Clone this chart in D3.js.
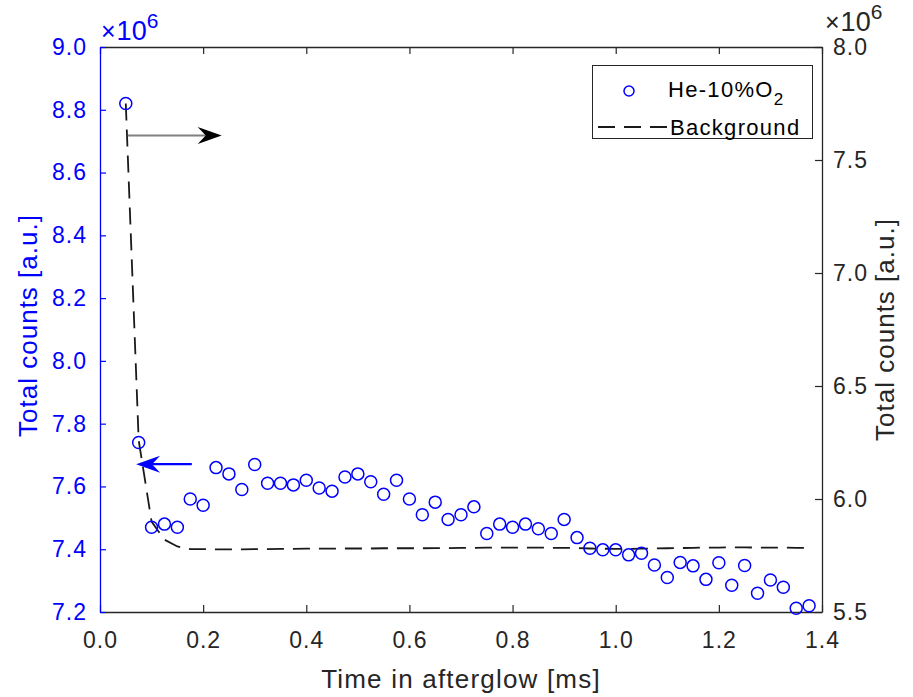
<!DOCTYPE html>
<html>
<head>
<meta charset="utf-8">
<script src="https://cdn.jsdelivr.net/npm/d3@7"></script>
<style>
  body { margin: 0; background: #fff; }
  svg text { font-family: "Liberation Sans", Arial, sans-serif; }
</style>
</head>
<body>
<div id="chart-area"></div>
<script>
// time in afterglow [ms]
const times = [0.05, 0.075, 0.1, 0.125, 0.15, 0.175, 0.2, 0.225, 0.25, 0.275,
  0.3, 0.325, 0.35, 0.375, 0.4, 0.425, 0.45, 0.475, 0.5, 0.525,
  0.55, 0.575, 0.6, 0.625, 0.65, 0.675, 0.7, 0.725, 0.75, 0.775,
  0.8, 0.825, 0.85, 0.875, 0.9, 0.925, 0.95, 0.975, 1.0, 1.025,
  1.05, 1.075, 1.1, 1.125, 1.15, 1.175, 1.2, 1.225, 1.25, 1.275,
  1.3, 1.325, 1.35, 1.375];

// He-10%O2 total counts (x1e6, left axis)
const heO2 = [8.82, 7.74, 7.47, 7.48, 7.47, 7.56, 7.54, 7.66, 7.64, 7.59,
  7.67, 7.61, 7.61, 7.605, 7.62, 7.595, 7.585, 7.63, 7.64, 7.615,
  7.575, 7.62, 7.56, 7.51, 7.55, 7.495, 7.51, 7.535, 7.45, 7.48,
  7.47, 7.48, 7.465, 7.45, 7.495, 7.437, 7.403, 7.398, 7.398, 7.382,
  7.387, 7.35, 7.31, 7.358, 7.347, 7.304, 7.357, 7.285, 7.348, 7.26,
  7.302, 7.279, 7.212, 7.22];

// background total counts (x1e6, right axis)
const background = [7.75, 6.26, 5.90, 5.82, 5.79, 5.778, 5.778, 5.777, 5.777, 5.777,
  5.778, 5.778, 5.779, 5.779, 5.780, 5.780, 5.780, 5.781, 5.781, 5.781,
  5.782, 5.782, 5.782, 5.782, 5.783, 5.783, 5.784, 5.784, 5.785, 5.785,
  5.785, 5.785, 5.785, 5.784, 5.784, 5.783, 5.781, 5.780, 5.779, 5.779,
  5.780, 5.781, 5.782, 5.783, 5.784, 5.785, 5.785, 5.786, 5.786, 5.785,
  5.785, 5.785, 5.784, 5.784];

const xTicks = [0, 0.2, 0.4, 0.6, 0.8, 1.0, 1.2, 1.4];
const leftTicks = [7.2, 7.4, 7.6, 7.8, 8.0, 8.2, 8.4, 8.6, 8.8, 9.0];
const rightTicks = [5.5, 6.0, 6.5, 7.0, 7.5, 8.0];

// annotation arrows in data units: [x, y] on the left axis
const arrowToRight = {from: [0.054, 8.718], to: [0.236, 8.718]};
const arrowToLeft = {from: [0.178, 7.671], to: [0.07, 7.671]};

const W = 913, H = 697;
const margin = {top: 47, right: 91, bottom: 85, left: 100};
const width = W - margin.left - margin.right;
const height = H - margin.top - margin.bottom;

const blue = "#0000ff";
const dark = "#262626";

const svg = d3.select("#chart-area")
  .append("svg")
  .attr("width", W)
  .attr("height", H);

const g = svg.append("g")
  .attr("transform", "translate(" + margin.left + "," + margin.top + ")");

const x = d3.scaleLinear().domain([0, 1.4]).range([0, width]);
const yL = d3.scaleLinear().domain([7.2, 9.0]).range([height, 0]);
const yR = d3.scaleLinear().domain([5.5, 8.0]).range([height, 0]);

// axes
function styleAxis(sel, color, size, spacing) {
  sel.select(".domain").attr("stroke", color).attr("stroke-width", 1.3);
  sel.selectAll(".tick line").attr("stroke", color).attr("stroke-width", 1.2);
  sel.selectAll(".tick text")
    .attr("fill", color)
    .style("font-size", size + "px")
    .style("letter-spacing", spacing + "px");
}

g.append("g")
  .attr("transform", "translate(0," + height + ")")
  .call(d3.axisBottom(x).tickValues(xTicks).tickFormat(d3.format(".1f"))
    .tickSizeInner(-7).tickSizeOuter(0).tickPadding(20))
  .call(s => styleAxis(s, dark, 23, 1));

g.append("g")
  .call(d3.axisTop(x).tickValues(xTicks).tickFormat("")
    .tickSizeInner(-7).tickSizeOuter(0))
  .call(s => styleAxis(s, dark, 23, 1));

g.append("g")
  .call(d3.axisLeft(yL).tickValues(leftTicks).tickFormat(d3.format(".1f"))
    .tickSizeInner(-6).tickSizeOuter(0).tickPadding(13))
  .call(s => styleAxis(s, blue, 23, 1));

g.append("g")
  .attr("transform", "translate(" + width + ",0)")
  .call(d3.axisRight(yR).tickValues(rightTicks).tickFormat(d3.format(".1f"))
    .tickSizeInner(-7).tickSizeOuter(0).tickPadding(11))
  .call(s => styleAxis(s, dark, 23, 1));

// exponent labels
function exponent(xPos, yPos, color) {
  const t = svg.append("text")
    .attr("x", xPos).attr("y", yPos)
    .attr("fill", color)
    .style("font-size", "26px");
  t.append("tspan").text("\u00d7").style("font-size", "25px");
  t.append("tspan").text("10").attr("dx", 1).style("font-size", "27px");
  t.append("tspan").text("6").attr("dy", -12).style("font-size", "21px");
}
exponent(101, 40, blue);
exponent(825, 31, dark);

// axis labels
svg.append("text")
  .attr("x", margin.left + width / 2).attr("y", 688)
  .attr("text-anchor", "middle")
  .attr("fill", dark)
  .style("font-size", "26px").style("letter-spacing", "1.2px")
  .text("Time in afterglow [ms]");

svg.append("text")
  .attr("transform", "translate(37," + (margin.top + height / 2 - 4) + ") rotate(-90)")
  .attr("text-anchor", "middle")
  .attr("fill", blue)
  .style("font-size", "26px").style("letter-spacing", "1px")
  .text("Total counts [a.u.]");

svg.append("text")
  .attr("transform", "translate(894," + (margin.top + height / 2) + ") rotate(-90)")
  .attr("text-anchor", "middle")
  .attr("fill", dark)
  .style("font-size", "26px").style("letter-spacing", "1px")
  .text("Total counts [a.u.]");

// background line (right axis)
const bgLine = d3.line()
  .x((d, i) => x(times[i]))
  .y(d => yR(d));

g.append("path")
  .datum(background)
  .attr("d", bgLine)
  .attr("fill", "none")
  .attr("stroke", "#1a1a1a")
  .attr("stroke-width", 1.8)
  .attr("stroke-dasharray", "17,9");

// He-10%O2 markers (left axis)
g.selectAll("circle.pt")
  .data(heO2)
  .enter()
  .append("circle")
  .attr("class", "pt")
  .attr("cx", (d, i) => x(times[i]))
  .attr("cy", d => yL(d))
  .attr("r", 6)
  .attr("fill", "none")
  .attr("stroke", blue)
  .attr("stroke-width", 1.5);

// arrows
function arrow(a, lineColor, headColor) {
  const x0 = x(a.from[0]), y0 = yL(a.from[1]);
  const x1 = x(a.to[0]), y1 = yL(a.to[1]);
  const dir = Math.sign(x1 - x0);
  const len = 24, half = 8.5, notch = 16;
  g.append("line")
    .attr("x1", x0).attr("y1", y0)
    .attr("x2", x1 - dir * notch).attr("y2", y1)
    .attr("stroke", lineColor)
    .attr("stroke-width", 2.2);
  g.append("path")
    .attr("d", "M" + x1 + "," + y1
      + "L" + (x1 - dir * len) + "," + (y1 - half)
      + "L" + (x1 - dir * notch) + "," + y1
      + "L" + (x1 - dir * len) + "," + (y1 + half) + "Z")
    .attr("fill", headColor);
}
arrow(arrowToRight, "#808080", "#000");
arrow(arrowToLeft, blue, blue);

// legend
const lg = svg.append("g");
lg.append("rect")
  .attr("x", 592.5).attr("y", 65.5)
  .attr("width", 220).attr("height", 73)
  .attr("fill", "#fff")
  .attr("stroke", dark)
  .attr("stroke-width", 1);
lg.append("circle")
  .attr("cx", 629).attr("cy", 91).attr("r", 5)
  .attr("fill", "none").attr("stroke", blue).attr("stroke-width", 1.5);
const t1 = lg.append("text")
  .attr("x", 668).attr("y", 97)
  .attr("fill", "#000")
  .style("font-size", "22px").style("letter-spacing", "1.3px");
t1.append("tspan").text("He-10%O");
t1.append("tspan").text("2").attr("dy", 8).style("font-size", "17px");
lg.append("line")
  .attr("x1", 598).attr("x2", 668)
  .attr("y1", 127).attr("y2", 127)
  .attr("stroke", "#1a1a1a").attr("stroke-width", 1.8)
  .attr("stroke-dasharray", "17,9");
lg.append("text")
  .attr("x", 670).attr("y", 135)
  .attr("fill", "#000")
  .style("font-size", "22px").style("letter-spacing", "1.3px")
  .text("Background");
</script>
</body>
</html>
